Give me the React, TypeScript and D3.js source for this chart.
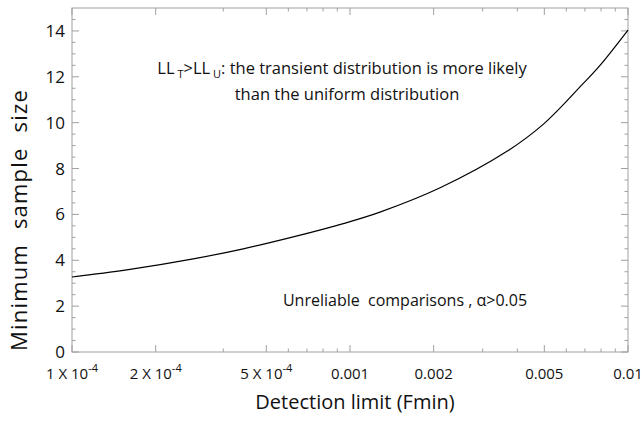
import React from "react";
import * as d3 from "d3";

const fminValues = [1e-4, 1.574e-4, 2.73e-4, 4.13e-4, 6.25e-4, 9.46e-4, 1.282e-3, 2.11e-3, 3.67e-3, 5.0e-3, 6.89e-3, 7.93e-3, 1e-2];
const sampleSize = [3.27, 3.58, 4.06, 4.5, 5.02, 5.6, 6.1, 7.16, 8.75, 9.97, 11.7, 12.5, 14.04];

const xMajorTicks = [1e-4, 2e-4, 5e-4, 1e-3, 2e-3, 5e-3, 1e-2];
const xMajorLabels = ["1 X 10|-4", "2 X 10|-4", "5 X 10|-4", "0.001", "0.002", "0.005", "0.01"];
const xMinorTicks = [3.5e-4, 6e-4, 7e-4, 8e-4, 9e-4, 3e-3, 4e-3, 6e-3, 7e-3, 8e-3, 9e-3];
const yMajorTicks = [0, 2, 4, 6, 8, 10, 12, 14];
const yMinorTicks = [0.5, 1, 1.5, 2.5, 3, 3.5, 4.5, 5, 5.5, 6.5, 7, 7.5, 8.5, 9, 9.5, 10.5, 11, 11.5, 12.5, 13, 13.5, 14.5];

const FONT = "'Open Sans', 'Noto Sans', sans-serif";

export default function App() {
  const W = 642, H = 421;
  const L = 72, R = 628, T = 8, B = 352;
  const x = d3.scaleLog().domain([1e-4, 1e-2]).range([L, R]);
  const y = d3.scaleLinear().domain([0, 15]).range([B, T]);
  const line = d3
    .line<number>()
    .x((d, i) => x(fminValues[i]))
    .y((d) => y(d))
    .curve(d3.curveCatmullRom.alpha(0.5));
  const axisColor = "#a0a0a0";
  const majLen = 7, minLen = 3.5;

  return (
    <svg width={W} height={H} style={{ position: "absolute", left: 0, top: 0, background: "#fff" }} fontFamily={FONT}>
      <rect x={L} y={T} width={R - L} height={B - T} fill="none" stroke={axisColor} strokeWidth={1} />
      {xMajorTicks.map((t, i) => (
        <g key={"xm" + i} stroke={axisColor}>
          <line x1={x(t)} x2={x(t)} y1={B} y2={B - majLen} />
          <line x1={x(t)} x2={x(t)} y1={T} y2={T + majLen} />
        </g>
      ))}
      {xMinorTicks.map((t, i) => (
        <g key={"xn" + i} stroke={axisColor}>
          <line x1={x(t)} x2={x(t)} y1={B} y2={B - minLen} />
          <line x1={x(t)} x2={x(t)} y1={T} y2={T + minLen} />
        </g>
      ))}
      {yMajorTicks.map((t, i) => (
        <g key={"ym" + i} stroke={axisColor}>
          <line x1={L} x2={L + majLen} y1={y(t)} y2={y(t)} />
          <line x1={R} x2={R - majLen} y1={y(t)} y2={y(t)} />
        </g>
      ))}
      {yMinorTicks.map((t, i) => (
        <g key={"yn" + i} stroke={axisColor}>
          <line x1={L} x2={L + minLen} y1={y(t)} y2={y(t)} />
          <line x1={R} x2={R - minLen} y1={y(t)} y2={y(t)} />
        </g>
      ))}
      {yMajorTicks.map((t, i) => (
        <text key={"yl" + i} x={L - 7} y={y(t) + 6} textAnchor="end" fontSize={17} fill="#111">
          {t}
        </text>
      ))}
      {xMajorTicks.map((t, i) => {
        const lab = xMajorLabels[i];
        const parts = lab.split("|");
        return (
          <text key={"xl" + i} x={x(t)} y={379} textAnchor="middle" fontSize={15} fill="#111">
            {parts[0]}
            {parts[1] ? (
              <tspan dy={-7} fontSize={11}>
                {parts[1]}
              </tspan>
            ) : null}
          </text>
        );
      })}
      <path d={line(sampleSize) || ""} fill="none" stroke="#000" strokeWidth={1.2} />
      <text x={355} y={409} textAnchor="middle" fontSize={20} fill="#111">
        Detection limit (Fmin)
      </text>
      <text
        transform={`translate(27,220) rotate(-90)`}
        textAnchor="middle"
        fontSize={22}
        fill="#111"
        letterSpacing={1.2}
        wordSpacing={8}
      >
        Minimum sample size
      </text>
      <text x={342} y={74} textAnchor="middle" fontSize={16.5} fill="#111">
        LL
        <tspan dy={4} fontSize={11}> T</tspan>
        <tspan dy={-4}>{">"}LL</tspan>
        <tspan dy={4} fontSize={11}> U</tspan>
        <tspan dy={-4}>: the transient distribution is more likely</tspan>
      </text>
      <text x={347} y={100} textAnchor="middle" fontSize={16.5} fill="#111">
        than the uniform distribution
      </text>
      <text x={405} y={306} textAnchor="middle" fontSize={16} fill="#111" style={{ whiteSpace: "pre" }}>
        {"Unreliable  comparisons , α>0.05"}
      </text>
    </svg>
  );
}
